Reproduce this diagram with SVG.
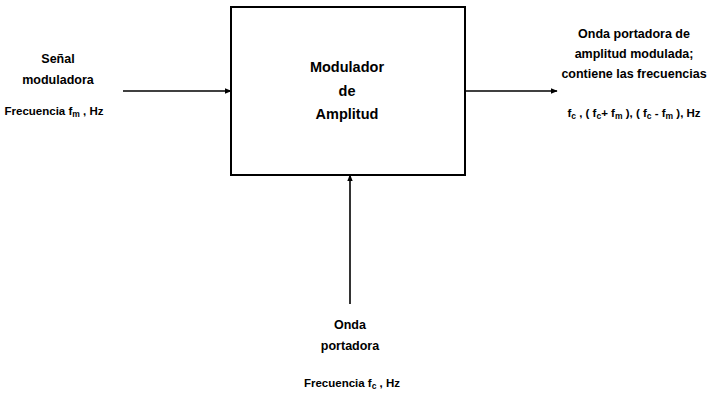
<svg xmlns="http://www.w3.org/2000/svg" width="708" height="395" viewBox="0 0 708 395">
<defs>
<marker id="ah" viewBox="0 0 10 10" refX="9" refY="5" markerWidth="7" markerHeight="7" orient="auto" markerUnits="userSpaceOnUse">
<path d="M0,1 L10,5 L0,9 Z" fill="#000"/>
</marker>
<style>
text{font-family:"Liberation Sans",Arial,sans-serif;font-weight:bold;font-size:12.5px;fill:#000;text-anchor:middle}
.big{font-size:14.5px}
.sm{font-size:11.5px}
.box{fill:#fff;stroke:#000;stroke-width:2}
.c{stroke:#000;stroke-width:1.6;fill:none;marker-end:url(#ah)}
.sub{font-size:8.5px}
</style>
</defs>
<rect width="708" height="395" fill="#fff"/>
<g id="modulador">
<rect class="box" x="231" y="7" width="234" height="168"/>
<text class="big" x="347" y="72">Modulador</text>
<text class="big" x="347" y="96">de</text>
<text class="big" x="347" y="119">Amplitud</text>
</g>
<g id="senal">
<text x="58" y="63">Señal</text>
<text x="58" y="84">moduladora</text>
<text class="sm" x="54" y="115">Frecuencia f<tspan class="sub" dy="2">m</tspan><tspan dy="-2"> , Hz</tspan></text>
</g>
<g id="salida">
<text x="634" y="38">Onda portadora de</text>
<text x="634" y="58">amplitud modulada;</text>
<text x="634" y="78">contiene las frecuencias</text>
<text class="sm" x="634" y="117">f<tspan class="sub" dy="2">c</tspan><tspan dy="-2"> , ( f</tspan><tspan class="sub" dy="2">c</tspan><tspan dy="-2">+ f</tspan><tspan class="sub" dy="2">m</tspan><tspan dy="-2"> ), ( f</tspan><tspan class="sub" dy="2">c</tspan><tspan dy="-2"> - f</tspan><tspan class="sub" dy="2">m</tspan><tspan dy="-2"> ), Hz</tspan></text>
</g>
<g id="portadora">
<text x="350" y="329">Onda</text>
<text x="350" y="350">portadora</text>
<text class="sm" x="352" y="387">Frecuencia f<tspan class="sub" dy="2">c</tspan><tspan dy="-2"> , Hz</tspan></text>
</g>
<g id="connectors">
<line class="c" x1="123" y1="91" x2="231" y2="91"/>
<line class="c" x1="465" y1="91" x2="557" y2="91"/>
<line class="c" x1="350" y1="304" x2="350" y2="175"/>
</g>
</svg>
